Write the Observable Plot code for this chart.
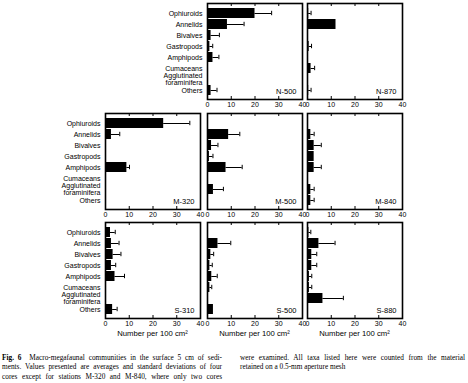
<!DOCTYPE html>
<html><head><meta charset="utf-8">
<script src="https://cdn.jsdelivr.net/npm/d3@7"></script>
<script src="https://cdn.jsdelivr.net/npm/@observablehq/plot@0.6"></script>
<style>
html,body{margin:0;padding:0;background:#fff;}
body{width:468px;height:383px;position:relative;overflow:hidden;font-family:"Liberation Sans",Arial,sans-serif;color:#000;}
.panel{position:absolute;}
.xlab{position:absolute;top:329px;width:120px;text-align:center;font-size:7.7px;line-height:10px;}
.cap{position:absolute;font-family:"Liberation Serif","Times New Roman",serif;font-size:7.3px;line-height:9.4px;color:#000;}
.cap div{text-align:justify;text-align-last:justify;white-space:nowrap;}
.cap div.last{text-align:left;text-align-last:left;}
</style></head><body>
<script>
const taxa = ["Ophiuroids","Annelids","Bivalves","Gastropods","Amphipods","Cumaceans","Agglutinated foraminifera","Others"];
const xTicks = [0, 10, 20, 30, 40];
const stations = ["N-500","N-870","M-320","M-500","M-840","S-310","S-500","S-880"];

const meanN500 = [20, 8.4, 1.5, 1.0, 2.3, 0, 0, 1.5];
const sdN500   = [7, 7, 3.5, 1.2, 2.5, 0, 0, 2.5];
const meanN870 = [0.5, 12, 0, 0.7, 0, 1.5, 0, 0.5];
const sdN870   = [1, 0, 0, 1, 0, 1.5, 0, 1];
const meanM320 = [24.5, 2.5, 0, 0, 9, 0, 0, 0];
const sdM320   = [11, 3.5, 0, 0, 1.1, 0, 0, 0];
const meanM500 = [0, 8.9, 1.7, 0.8, 7.8, 0, 2.5, 0];
const sdM500   = [0, 4.7, 2.7, 1.5, 6.8, 0, 4.2, 0];
const meanM840 = [0, 1.4, 2.8, 2.8, 2.8, 0, 1.4, 1.4];
const sdM840   = [0, 1.4, 3, 0, 3, 0, 1.4, 1.4];
const meanS310 = [2.1, 2.5, 3.2, 2.5, 4.0, 0, 0, 3.0];
const sdS310   = [2, 3.2, 3.3, 1.8, 4, 0, 0, 1.9];
const meanS500 = [0, 4.4, 1.4, 1.0, 1.8, 1.0, 0, 2.5];
const sdS500   = [0, 5.4, 1.2, 1.0, 2.3, 0.8, 0, 0];
const meanS880 = [0.6, 4.8, 1.8, 1.8, 0.8, 0.8, 6.5, 0];
const sdS880   = [0.8, 6.8, 2.1, 2.1, 1.0, 1.0, 8.6, 0];

const xLabel = "Number per 100 cm²";

const colLeft = [105, 207, 307];
const rowTop = [3, 113, 222];
const FW = 95, FH = 96;

function panel(name, means, sds, col, row, showLabels) {
  const data = taxa.map((t, i) => ({taxon: t, mean: means[i], sd: sds[i]}));
  const err = data.filter(d => d.sd > 0);
  const ml = showLabels ? 100 : 2, mr = 6, mt = 2, mb = 14;
  const marks = [
    Plot.barX(data.filter(d => d.mean > 0), {x: "mean", y: "taxon", fill: "black"}),
    Plot.ruleY(err, {y: "taxon", x1: "mean", x2: d => d.mean + d.sd, stroke: "black", strokeWidth: 1}),
    Plot.tickX(err, {x: d => d.mean + d.sd, y: "taxon", stroke: "black", strokeWidth: 1, insetTop: 2.8, insetBottom: 2.8}),
    Plot.tickX(xTicks.slice(1, -1), {x: d => d, stroke: "black", strokeWidth: 1, insetBottom: FH - 3}),
    Plot.tickX(xTicks.slice(1, -1), {x: d => d, stroke: "black", strokeWidth: 1, insetTop: FH - 3}),
    Plot.axisX({ticks: xTicks, tickSize: 0, tickPadding: 3, label: null, fontSize: 7}),
    Plot.frame({stroke: "black", strokeWidth: 1.6}),
    Plot.text([name], {text: d => d, frameAnchor: "bottom-right", dx: -6, dy: -6, fontSize: 7.5})
  ];
  if (showLabels) {
    marks.push(Plot.axisY({tickSize: 0, tickPadding: 5, label: null, fontSize: 7, lineHeight: 0.95,
      tickFormat: d => d.replace(" ", "\n")}));
  }
  const svg = Plot.plot({
    width: ml + FW + mr, height: mt + FH + mb,
    marginLeft: ml, marginRight: mr, marginTop: mt, marginBottom: mb,
    style: {fontFamily: '"Liberation Sans", Arial, sans-serif', fontSize: "7px", background: "transparent", overflow: "visible", color: "black"},
    x: {domain: [0, 40], label: null},
    y: {domain: taxa, padding: 0.1, label: null, axis: showLabels ? undefined : null},
    marks
  });
  const div = document.createElement("div");
  div.className = "panel";
  div.style.left = (colLeft[col] - ml) + "px";
  div.style.top = (rowTop[row] - mt) + "px";
  div.appendChild(svg);
  document.body.appendChild(div);
}

panel(stations[0], meanN500, sdN500, 1, 0, true);
panel(stations[1], meanN870, sdN870, 2, 0, false);
panel(stations[2], meanM320, sdM320, 0, 1, true);
panel(stations[3], meanM500, sdM500, 1, 1, false);
panel(stations[4], meanM840, sdM840, 2, 1, false);
panel(stations[5], meanS310, sdS310, 0, 2, true);
panel(stations[6], meanS500, sdS500, 1, 2, false);
panel(stations[7], meanS880, sdS880, 2, 2, false);

for (let c = 0; c < 3; c++) {
  const d = document.createElement("div");
  d.className = "xlab";
  d.style.left = (colLeft[c] + FW / 2 - 60) + "px";
  d.textContent = xLabel;
  document.body.appendChild(d);
}

const capLeft = [
  "<b>Fig. 6</b>&nbsp; Macro-megafaunal communities in the surface 5 cm of sedi-",
  "ments. Values presented are averages and standard deviations of four",
  "cores except for stations M-320 and M-840, where only two cores"
];
const capRight = [
  "were examined. All taxa listed here were counted from the material",
  "retained on a 0.5-mm aperture mesh"
];
function caption(lines, left, width, lastLeft) {
  const c = document.createElement("div");
  c.className = "cap";
  c.style.left = left + "px";
  c.style.top = "353px";
  c.style.width = width + "px";
  lines.forEach((l, i) => {
    const d = document.createElement("div");
    d.innerHTML = l;
    if (lastLeft && i === lines.length - 1) d.className = "last";
    c.appendChild(d);
  });
  document.body.appendChild(c);
}
caption(capLeft, 2, 220, false);
caption(capRight, 240, 225, true);
</script>
</body></html>
